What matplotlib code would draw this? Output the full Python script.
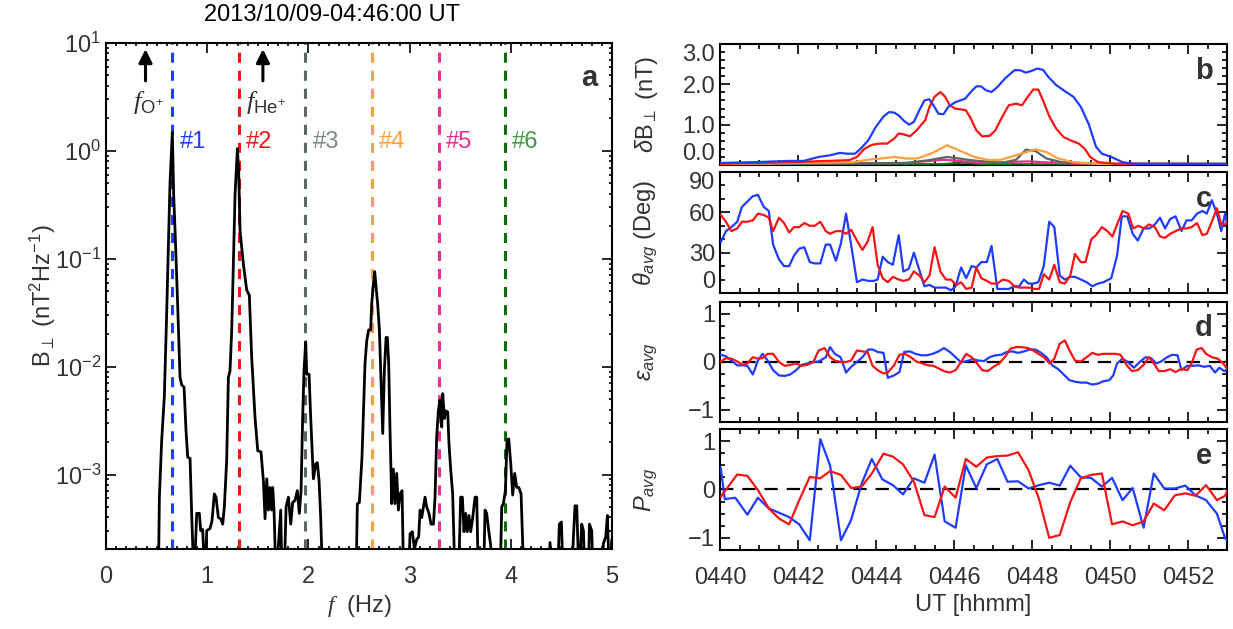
import matplotlib
matplotlib.use('Agg')
import matplotlib.pyplot as plt
from matplotlib.ticker import MultipleLocator, FixedLocator, NullFormatter, LogLocator
import numpy as np

plt.rcParams['font.family'] = 'Liberation Sans'
plt.rcParams['mathtext.fontset'] = 'custom'
plt.rcParams['mathtext.rm'] = 'Liberation Sans'
plt.rcParams['mathtext.it'] = 'Liberation Sans:italic'
plt.rcParams['mathtext.bf'] = 'Liberation Serif:italic'
plt.rcParams['mathtext.sf'] = 'Liberation Sans'

TXT = '#333333'
BLUE = '#1f3cff'
RED = '#f81414'
GRAY = '#5a6762'
ORANGE = '#ffa040'
PINK = '#e8308c'
GREEN = '#0b6e0b'

# ---- panel a: spectrum (log10 of nT^2/Hz, -4 = below axis)
spec_f = [0.0, 0.50, 0.517, 0.527, 0.550, 0.576, 0.599, 0.616, 0.632, 0.655, 0.668, 0.682, 0.705,
          0.731, 0.748, 0.771, 0.790, 0.807, 0.830, 0.846, 0.869, 0.896, 0.922, 0.935, 0.955, 0.978,
          0.995, 1.028, 1.047, 1.070, 1.087, 1.110, 1.133, 1.153, 1.169, 1.192, 1.209, 1.225, 1.242,
          1.258, 1.275, 1.298, 1.311, 1.324, 1.357, 1.390, 1.416, 1.439, 1.472, 1.499, 1.531, 1.555,
          1.571, 1.588, 1.604, 1.620, 1.637, 1.647, 1.660, 1.680, 1.703, 1.726, 1.739, 1.759, 1.779,
          1.802, 1.825, 1.844, 1.867, 1.890, 1.910, 1.927, 1.943, 1.956, 1.973, 1.983, 2.006, 2.022,
          2.049, 2.072, 2.088, 2.105, 2.121, 2.141, 2.460, 2.470, 2.483, 2.503, 2.529, 2.543, 2.559,
          2.576, 2.595, 2.615, 2.625, 2.642, 2.655, 2.668, 2.684, 2.701, 2.717, 2.734, 2.750, 2.767,
          2.780, 2.793, 2.806, 2.823, 2.839, 2.856, 2.872, 2.889, 2.905, 2.925, 2.941, 2.987, 3.004,
          3.027, 3.047, 3.070, 3.089, 3.103, 3.119, 3.136, 3.152, 3.168, 3.191, 3.211, 3.235, 3.251,
          3.267, 3.284, 3.300, 3.317, 3.327, 3.343, 3.356, 3.376, 3.389, 3.406, 3.425, 3.449, 3.482,
          3.504, 3.521, 3.537, 3.554, 3.570, 3.587, 3.603, 3.623, 3.646, 3.663, 3.679, 3.729, 3.745,
          3.761, 3.781, 3.801, 3.821, 3.893, 3.910, 3.926, 3.946, 3.962, 3.979, 3.999, 4.018, 4.038,
          4.058, 4.078, 4.101, 4.117, 4.140, 4.371, 4.387, 4.404, 4.460, 4.479, 4.499, 4.519, 4.601,
          4.618, 4.634, 4.651, 4.674, 4.700, 4.717, 4.733, 4.766, 4.776, 4.799, 4.815, 4.898, 4.914,
          4.937, 4.954, 4.974, 4.997]
spec_log = [-4, -4, -4, -3.21, -2.68, -2.28, -1.51, -0.89, -0.30, 0.17, -0.40, -0.74, -1.35,
            -2.10, -2.17, -2.19, -2.59, -2.84, -2.85, -3.36, -4, -3.36, -3.36, -3.52, -3.51, -4,
            -3.52, -3.50, -3.43, -3.18, -3.21, -3.40, -3.41, -3.46, -3.30, -2.87, -2.10, -2.04, -1.66,
            -1.05, -0.40, 0.02, -0.20, -0.74, -1.05, -1.29, -1.34, -1.91, -2.47, -2.78, -2.79, -3.06,
            -3.41, -3.04, -3.33, -3.12, -3.33, -3.12, -3.33, -4, -3.67, -3.33, -4, -4, -3.30,
            -3.21, -3.46, -3.26, -3.24, -3.15, -3.36, -3.15, -2.47, -2.04, -1.77, -2.07, -2.07, -2.47,
            -3.04, -2.90, -2.89, -3.06, -3.40, -4, -4, -4, -3.27, -3.26, -2.84, -2.44, -1.97,
            -1.76, -1.66, -1.66, -1.42, -1.23, -1.12, -1.26, -1.42, -1.66, -2.13, -2.62, -2.04, -1.73,
            -1.73, -1.97, -2.59, -3.27, -2.95, -3.27, -2.99, -3.33, -3.18, -3.15, -4, -4, -3.55,
            -3.53, -3.69, -3.60, -3.58, -3.33, -3.40, -3.30, -3.21, -3.30, -3.36, -3.46, -3.46, -3.21,
            -2.65, -2.41, -2.31, -2.56, -2.25, -2.48, -2.41, -2.42, -2.72, -2.96, -3.18, -4, -4,
            -3.21, -3.21, -3.53, -3.36, -3.53, -3.38, -3.53, -3.40, -3.21, -3.21, -4, -4, -3.33,
            -3.36, -3.52, -3.66, -4, -4, -3.30, -3.27, -3.15, -2.68, -2.67, -2.90, -3.19, -2.99,
            -3.12, -3.12, -3.18, -3.64, -4, -4, -3.63, -4, -4, -3.46, -3.44, -4, -4,
            -3.58, -3.29, -3.29, -4, -3.46, -3.52, -4, -4, -3.46, -3.52, -4, -4, -3.64,
            -3.58, -3.38, -4, -3.61]

harm_f = [0.655, 1.31, 1.97, 2.63, 3.29, 3.94]
harm_labels = ['#1', '#2', '#3', '#4', '#5', '#6']
harm_colors = [BLUE, RED, GRAY, ORANGE, PINK, GREEN]
harm_text_colors = [BLUE, RED, '#7d8884', ORANGE, PINK, '#3f9a3f']
f_O = 0.39
f_He = 1.55

# ---- panel b: delta B_perp (nT), time in minutes after 04:40
tb_blue = [0, 0.88, 1.75, 2.14, 2.53, 2.82, 3.07, 3.26, 3.46, 3.60, 3.80, 3.99, 4.19, 4.33, 4.46,
           4.58, 4.72, 4.85, 4.97, 5.11, 5.24, 5.36, 5.47, 5.60, 5.73, 5.86, 6.04, 6.28, 6.43, 6.57,
           6.69, 6.82, 6.96, 7.11, 7.30, 7.55, 7.69, 7.84, 7.98, 8.13, 8.28, 8.42, 8.62, 8.81, 9.06,
           9.25, 9.45, 9.64, 9.79, 10.03, 10.32, 10.61, 11.59, 13.0]
b_blue = [0.05, 0.07, 0.10, 0.10, 0.20, 0.24, 0.30, 0.28, 0.28, 0.40, 0.61, 0.94, 1.20, 1.31, 1.30,
          1.23, 1.09, 1.00, 1.07, 1.36, 1.60, 1.63, 1.48, 1.27, 1.26, 1.45, 1.56, 1.64, 1.81, 1.95,
          1.95, 1.85, 1.81, 1.93, 2.14, 2.35, 2.35, 2.29, 2.33, 2.39, 2.36, 2.18, 1.98, 1.85, 1.69,
          1.44, 1.02, 0.45, 0.28, 0.20, 0.07, 0.03, 0.03, 0.03]
tb_red = [0, 1.85, 3.31, 3.51, 3.70, 3.89, 4.09, 4.28, 4.46, 4.58, 4.71, 4.87, 5.04, 5.26, 5.37,
          5.50, 5.65, 5.77, 5.89, 6.02, 6.15, 6.30, 6.43, 6.57, 6.72, 6.91, 7.06, 7.21, 7.40, 7.59,
          7.74, 7.89, 8.03, 8.16, 8.28, 8.45, 8.62, 8.81, 9.01, 9.20, 9.35, 9.49, 9.69, 10.13, 13.0]
b_red = [0.03, 0.07, 0.12, 0.20, 0.40, 0.50, 0.53, 0.53, 0.65, 0.78, 0.76, 0.71, 0.86, 1.11, 1.44,
         1.69, 1.81, 1.69, 1.48, 1.40, 1.38, 1.36, 1.15, 0.86, 0.71, 0.72, 0.86, 1.15, 1.48, 1.52,
         1.48, 1.69, 1.87, 1.87, 1.60, 1.19, 0.90, 0.69, 0.60, 0.53, 0.40, 0.20, 0.07, 0.03, 0.03]
tb_orange = [0, 3.41, 3.80, 4.19, 4.48, 4.77, 5.06, 5.45, 5.82, 6.13, 6.52, 6.91, 7.21, 7.59, 8.08,
             8.37, 8.67, 9.06, 9.64, 13.0]
b_orange = [0.02, 0.07, 0.13, 0.17, 0.20, 0.16, 0.16, 0.30, 0.49, 0.36, 0.20, 0.12, 0.13, 0.24, 0.39,
            0.32, 0.16, 0.07, 0.03, 0.02]
tb_gray = [0, 4.77, 5.36, 5.82, 6.13, 6.43, 7.21, 7.59, 7.84, 8.08, 8.37, 8.76, 9.64, 13.0]
b_gray = [0.01, 0.05, 0.12, 0.20, 0.16, 0.12, 0.05, 0.13, 0.38, 0.35, 0.16, 0.07, 0.03, 0.01]
tb_pink = [0, 4.77, 5.74, 6.13, 6.72, 7.89, 8.28, 9.15, 13.0]
b_pink = [0.03, 0.05, 0.13, 0.10, 0.05, 0.09, 0.07, 0.03, 0.02]
tb_green = [0, 5.74, 6.23, 6.72, 13.0]
b_green = [0.0, 0.02, 0.06, 0.02, 0.0]

# ---- panel c: theta_avg (deg)
tc_blue = [0.02, 0.15, 0.29, 0.44, 0.56, 0.70, 0.84, 0.97, 1.12, 1.25, 1.36, 1.51, 1.64, 1.77, 1.90,
           2.03, 2.16, 2.30, 2.43, 2.57, 2.71, 2.82, 2.97, 3.10, 3.23, 3.36, 3.51, 3.65, 3.80, 3.94,
           4.04, 4.17, 4.30, 4.43, 4.58, 4.70, 4.84, 4.97, 5.11, 5.24, 5.37, 5.50, 5.65, 5.79, 5.92,
           6.04, 6.18, 6.31, 6.45, 6.57, 6.70, 6.84, 6.96, 7.11, 7.25, 7.40, 7.55, 7.67, 7.79, 7.91,
           8.03, 8.16, 8.30, 8.44, 8.57, 8.71, 8.84, 8.98, 9.10, 9.25, 9.40, 9.54, 9.69, 9.83, 10.03,
           10.18, 10.30, 10.44, 10.58, 10.71, 10.86, 11.00, 11.15, 11.28, 11.41, 11.54, 11.68, 11.83,
           11.96, 12.09, 12.23, 12.37, 12.48, 12.61, 12.74, 12.85, 12.95, 13.0]
c_blue = [38, 46, 49, 53, 64, 68, 72, 73, 64, 61, 36, 25, 20, 20, 28,
          33, 34, 23, 22, 22, 36, 36, 24, 37, 59, 36, 8, 10, 9, 9,
          10, 27, 23, 21, 43, 16, 18, 30, 17, 5, 6, 4, 4, 4, 2,
          5, 19, 11, 20, 19, 23, 23, 35, 3, 3, 3, 5, 5, 10, 7,
          7, 8, 20, 53, 49, 13, 10, 12, 12, 10, 8, 5, 7, 8, 11,
          28, 57, 57, 44, 39, 48, 48, 51, 56, 48, 55, 57, 46,
          54, 54, 59, 61, 59, 69, 59, 46, 59, 52]
tc_red = [0.02, 0.15, 0.29, 0.44, 0.56, 0.70, 0.84, 0.97, 1.12, 1.25, 1.36, 1.51, 1.64, 1.77, 1.90,
          2.03, 2.16, 2.30, 2.43, 2.57, 2.71, 2.82, 2.97, 3.10, 3.23, 3.36, 3.51, 3.65, 3.78, 3.91,
          4.04, 4.17, 4.30, 4.43, 4.58, 4.70, 4.84, 4.97, 5.11, 5.24, 5.37, 5.50, 5.65, 5.79, 5.92,
          6.06, 6.18, 6.31, 6.45, 6.57, 6.70, 6.84, 6.96, 7.11, 7.25, 7.40, 7.55, 7.67, 7.81, 7.94,
          8.06, 8.18, 8.30, 8.44, 8.57, 8.71, 8.84, 8.98, 9.10, 9.25, 9.37, 9.52, 9.64, 9.79, 9.93,
          10.06, 10.18, 10.32, 10.47, 10.59, 10.73, 10.86, 11.00, 11.15, 11.28, 11.41, 11.54, 11.68,
          11.83, 11.96, 12.09, 12.23, 12.37, 12.48, 12.61, 12.74, 12.85, 12.95, 13.0]
c_red = [58, 53, 46, 48, 53, 53, 54, 59, 58, 56, 46, 56, 52, 45, 49,
         49, 52, 50, 50, 53, 46, 44, 46, 46, 44, 47, 39, 32, 38, 49,
         21, 11, 8, 12, 10, 9, 10, 16, 13, 8, 13, 34, 16, 10, 10,
         6, 8, 3, 4, 19, 11, 9, 7, 7, 10, 9, 5, 4, 4, 4,
         3, 3, 14, 10, 21, 8, 7, 13, 29, 23, 23, 40, 43, 49, 46,
         42, 51, 61, 59, 48, 50, 48, 51, 49, 42, 41, 44, 46,
         48, 48, 49, 52, 43, 44, 53, 63, 51, 51, 53]

# ---- panel d: ellipticity
td_blue = [0.02, 0.15, 0.29, 0.44, 0.58, 0.70, 0.84, 0.97, 1.09, 1.22, 1.36, 1.51, 1.66, 1.80, 1.95,
           2.09, 2.24, 2.39, 2.53, 2.71, 2.82, 2.94, 3.09, 3.23, 3.36, 3.51, 3.65, 3.80, 3.91, 4.04,
           4.19, 4.30, 4.46, 4.60, 4.72, 4.87, 5.01, 5.16, 5.31, 5.45, 5.60, 5.74, 5.89, 6.04, 6.18,
           6.33, 6.48, 6.62, 6.77, 6.91, 7.06, 7.21, 7.35, 7.50, 7.64, 7.79, 7.94, 8.08, 8.23, 8.37,
           8.52, 8.67, 8.81, 8.96, 9.10, 9.25, 9.40, 9.54, 9.69, 9.83, 9.98, 10.08, 10.18, 10.32, 10.47,
           10.61, 10.76, 10.91, 11.05, 11.18, 11.31, 11.44, 11.59, 11.73, 11.83, 11.98, 12.12, 12.27,
           12.41, 12.56, 12.69, 12.80, 12.93, 13.0]
d_blue = [0.15, 0.12, 0.03, -0.07, -0.07, -0.08, -0.26, 0.03, 0.17, 0.03,
          -0.17, -0.28, -0.29, -0.26, -0.17, -0.06, -0.03, 0.0, 0.01, 0.10,
          0.31, 0.17, 0.10, -0.22, -0.10, 0.0, 0.10, 0.26, 0.26, 0.21,
          0.19, -0.33, -0.28, -0.21, 0.21, 0.22, 0.17, 0.14, 0.14, 0.17,
          0.22, 0.29, 0.21, 0.10, -0.01, 0.02, 0.06, 0.03, 0.02, 0.10,
          0.14, 0.15, 0.21, 0.22, 0.19, 0.22, 0.26, 0.26, 0.19, 0.10,
          -0.07, -0.15, -0.26, -0.38, -0.41, -0.43, -0.43, -0.47, -0.45, -0.40,
          -0.38, -0.28, -0.03, 0.07, -0.01, -0.12, 0.0, 0.10, 0.08, -0.03,
          0.01, 0.09, 0.15, 0.14, -0.17, -0.08, -0.08, -0.07, -0.10, -0.08,
          -0.22, -0.12, -0.19, -0.15]
td_red = [0.02, 0.15, 0.29, 0.44, 0.58, 0.70, 0.84, 0.97, 1.09, 1.22, 1.36, 1.51, 1.66, 1.80, 1.95,
          2.09, 2.24, 2.39, 2.53, 2.68, 2.82, 2.94, 3.09, 3.23, 3.36, 3.51, 3.65, 3.78, 3.91, 4.04,
          4.19, 4.30, 4.46, 4.60, 4.74, 4.89, 5.03, 5.18, 5.33, 5.47, 5.62, 5.74, 5.89, 6.04, 6.18,
          6.31, 6.45, 6.59, 6.72, 6.86, 7.01, 7.16, 7.30, 7.45, 7.59, 7.74, 7.89, 8.03, 8.16, 8.30,
          8.45, 8.57, 8.71, 8.84, 8.96, 9.10, 9.25, 9.40, 9.54, 9.69, 9.83, 9.98, 10.13, 10.27, 10.42,
          10.56, 10.71, 10.86, 11.00, 11.12, 11.25, 11.39, 11.54, 11.68, 11.83, 11.98, 12.09, 12.22,
          12.35, 12.46, 12.61, 12.76, 12.90, 13.0]
d_red = [0.01, 0.08, 0.07, 0.01, -0.06, -0.03, 0.10, 0.07, 0.08, 0.17,
         0.17, 0.0, -0.08, -0.06, -0.03, -0.08, -0.06, 0.0, 0.24, 0.29,
         0.10, 0.03, 0.0, 0.0, 0.03, 0.24, 0.22, 0.21, -0.08, -0.17,
         -0.24, -0.22, -0.07, 0.15, 0.17, 0.10, 0.01, -0.03, -0.07, -0.08,
         -0.14, -0.19, -0.22, -0.17, 0.0, 0.17, 0.10, -0.03, -0.17, -0.19,
         -0.10, -0.03, 0.10, 0.28, 0.31, 0.31, 0.29, 0.24, 0.17, 0.10,
         -0.03, 0.07, 0.38, 0.45, 0.24, 0.03, 0.01, 0.10, 0.19, 0.15,
         0.17, 0.17, 0.17, 0.15, -0.06, -0.19, -0.17, -0.06, 0.10, -0.03,
         -0.19, -0.19, -0.15, -0.21, -0.14, -0.17, -0.03, 0.26, 0.29, 0.17,
         0.10, 0.07, -0.03, -0.14]

# ---- panel e: degree of polarization
te_blue = [0.02, 0.12, 0.39, 0.70, 0.97, 1.25, 1.51, 1.77, 2.03, 2.30, 2.57, 2.82, 3.10, 3.36, 3.63,
           3.89, 4.16, 4.43, 4.69, 4.97, 5.24, 5.50, 5.76, 6.04, 6.30, 6.57, 6.84, 7.11, 7.37, 7.64,
           7.91, 8.18, 8.44, 8.71, 8.98, 9.25, 9.51, 9.79, 10.05, 10.32, 10.58, 10.86, 11.12, 11.39,
           11.66, 11.93, 12.19, 12.46, 12.74, 12.95, 13.0]
e_blue = [0.43, -0.20, -0.17, -0.52, -0.17, -0.39, -0.48, -0.57, -0.72, -1.05, 1.04, 0.50, -1.05,
          -0.63, 0.12, 0.63, 0.21, 0.09, -0.10, 0.23, 0.14, 0.72, -0.66, -0.79, 0.50, 0.03, 0.52,
          0.63, 0.16, 0.17, 0.02, 0.09, 0.14, 0.08, 0.49, 0.25, 0.24, 0.06, 0.24, -0.22, 0.03,
          -0.79, 0.33, 0.02, 0.02, 0.08, -0.12, -0.22, -0.50, -1.01, -1.05]
te_red = [0.02, 0.21, 0.44, 0.70, 0.97, 1.25, 1.51, 1.77, 2.03, 2.30, 2.57, 2.82, 3.10, 3.36, 3.63,
          3.89, 4.19, 4.43, 4.69, 4.97, 5.24, 5.50, 5.76, 6.04, 6.30, 6.57, 6.84, 7.11, 7.37, 7.64,
          7.91, 8.18, 8.44, 8.71, 8.98, 9.25, 9.51, 9.79, 10.05, 10.32, 10.58, 10.86, 11.12, 11.39,
          11.66, 11.93, 12.19, 12.46, 12.74, 12.95, 13.0]
e_red = [-0.15, 0.06, 0.31, 0.28, -0.01, -0.39, -0.60, -0.72, -0.22, 0.26, 0.23, 0.38, 0.30,
         0.03, 0.06, 0.33, 0.74, 0.68, 0.52, 0.16, -0.53, -0.57, 0.06, -0.17, 0.63, 0.47, 0.66,
         0.69, 0.70, 0.77, 0.40, -0.20, -1.00, -0.94, -0.26, 0.23, 0.30, 0.33, -0.72, -0.66, -0.74,
         -0.66, -0.29, -0.43, -0.12, -0.08, -0.13, 0.09, -0.22, -0.13, -0.03]

ut_ticks = [0, 2, 4, 6, 8, 10, 12]
ut_labels = ['0440', '0442', '0444', '0446', '0448', '0450', '0452']

fig = plt.figure(figsize=(12.33, 6.29), dpi=100)


def style(ax, minor_len=3.5):
    for s in ax.spines.values():
        s.set_linewidth(1.5)
        s.set_color('black')
    ax.tick_params(which='both', direction='in', top=True, right=True,
                   labelsize=17, labelcolor=TXT, width=1.2)
    ax.tick_params(which='major', length=7)
    ax.tick_params(which='minor', length=minor_len)


# panel a
ax = fig.add_axes([0.086, 0.1272, 0.4104, 0.8045])
ax.plot(spec_f, 10.0 ** np.array(spec_log), color='black', lw=2.0, zorder=3)
for hf, lab, c, tc in zip(harm_f, harm_labels, harm_colors, harm_text_colors):
    ax.axvline(hf, color=c, lw=2.2, ls=(0, (3.3, 2.6)), zorder=2)
    ax.text(hf + 0.07, 1.2, lab, color=tc, fontsize=17, va='center', ha='left')
ax.set_yscale('log')
ax.set_xlim(0, 5)
ax.set_ylim(2.04e-4, 10)
ax.xaxis.set_major_locator(MultipleLocator(1))
ax.xaxis.set_minor_locator(MultipleLocator(0.1))
ax.yaxis.set_major_locator(LogLocator(base=10, numticks=10))
ax.yaxis.set_minor_locator(LogLocator(base=10, subs=np.arange(2, 10), numticks=20))
ax.yaxis.set_minor_formatter(NullFormatter())
style(ax, minor_len=2)
ax.tick_params(axis='x', pad=12)
ax.set_xlabel(r'$\mathbf{f}$  (Hz)', fontsize=17, color=TXT, labelpad=4)
ax.set_ylabel(r'B$_{\perp}$ (nT$^{2}$Hz$^{-1}$)', fontsize=17, color=TXT)
ax.yaxis.set_label_coords(-0.095, 0.5)
for fx, name in [(f_O, r'$\mathbf{f}_{\mathrm{O}^{+}}$'), (f_He, r'$\mathbf{f}_{\mathrm{He}^{+}}$')]:
    ax.annotate('', xy=(fx, 9.3), xytext=(fx, 4.2),
                arrowprops=dict(arrowstyle='-|>', color='black', lw=2.2, mutation_scale=20))
    ax.text(fx + 0.03, 2.8, name, fontsize=19, color=TXT, ha='center', va='center')
ax.text(0.955, 0.93, 'a', transform=ax.transAxes, fontsize=21, fontweight='bold',
        color=TXT, ha='center', va='center')
fig.text(332 / 1233, 1 - 15 / 629, '2013/10/09-04:46:00 UT', fontsize=17, color='black',
         ha='center', va='center')

# right panels
H = 0.1924
axb = fig.add_axes([0.584, 0.7377, 0.4112, H])
axc = fig.add_axes([0.584, 0.5342, 0.4112, H])
axd = fig.add_axes([0.584, 0.3291, 0.4112, 0.1908])
axe = fig.add_axes([0.584, 0.1256, 0.4112, H])

for t, v, c in [(tb_green, b_green, GREEN), (tb_pink, b_pink, PINK), (tb_gray, b_gray, GRAY),
                (tb_orange, b_orange, ORANGE), (tb_red, b_red, RED), (tb_blue, b_blue, BLUE)]:
    axb.plot(t, v, color=c, lw=1.6, zorder=3)
axb.set_ylim(0, 3)
axb.yaxis.set_major_locator(FixedLocator([0, 1, 2, 3]))
axb.set_yticklabels(['0.0', '1.0', '2.0', '3.0'])
axb.yaxis.set_minor_locator(MultipleLocator(0.2))
axb.set_ylabel(r'$\delta$B$_{\perp}$ (nT)', fontsize=17, color=TXT)

axc.plot(tc_blue, c_blue, color=BLUE, lw=1.6, zorder=3)
axc.plot(tc_red, c_red, color=RED, lw=1.6, zorder=3)
axc.set_ylim(0, 90)
axc.yaxis.set_major_locator(FixedLocator([0, 30, 60, 90]))
axc.yaxis.set_minor_locator(MultipleLocator(10))
axc.set_ylabel(r'$\theta_{avg}$ (Deg)', fontsize=17, color=TXT)

axd.plot(td_blue, d_blue, color=BLUE, lw=1.6, zorder=3)
axd.plot(td_red, d_red, color=RED, lw=1.6, zorder=3)
axd.axhline(0, color='black', lw=1.6, ls=(0, (6, 4)), zorder=2)
axd.set_ylim(-1.25, 1.25)
axd.yaxis.set_major_locator(FixedLocator([-1, 0, 1]))
axd.yaxis.set_minor_locator(MultipleLocator(0.25))
axd.set_ylabel(r'$\varepsilon_{avg}$', fontsize=17, color=TXT)

axe.plot(te_blue, e_blue, color=BLUE, lw=1.6, zorder=3)
axe.plot(te_red, e_red, color=RED, lw=1.6, zorder=3)
axe.axhline(0, color='black', lw=1.6, ls=(0, (6, 4)), zorder=2)
axe.set_ylim(-1.25, 1.25)
axe.yaxis.set_major_locator(FixedLocator([-1, 0, 1]))
axe.yaxis.set_minor_locator(MultipleLocator(0.25))
axe.set_ylabel(r'$P_{avg}$', fontsize=17, color=TXT)

for a, letter in zip([axb, axc, axd, axe], 'bcde'):
    a.set_xlim(0, 13)
    a.xaxis.set_major_locator(FixedLocator(ut_ticks))
    a.xaxis.set_minor_locator(MultipleLocator(0.5))
    style(a)
    a.yaxis.set_label_coords(-0.118, 0.5)
    a.text(0.954, 0.78, letter, transform=a.transAxes, fontsize=21, fontweight='bold',
           color=TXT, ha='center', va='center', zorder=1)
    if a is axe:
        a.set_xticklabels(ut_labels)
        a.tick_params(axis='x', pad=12)
        a.set_xlabel('UT [hhmm]', fontsize=17, color=TXT, labelpad=4)
    else:
        a.set_xticklabels([])

# extreme labels sit inside the frame on b and c
for a in (axb, axc):
    labs = a.get_yticklabels()
    labs[0].set_va('bottom')
    labs[-1].set_va('top')

fig.savefig('out.png', dpi=100)
